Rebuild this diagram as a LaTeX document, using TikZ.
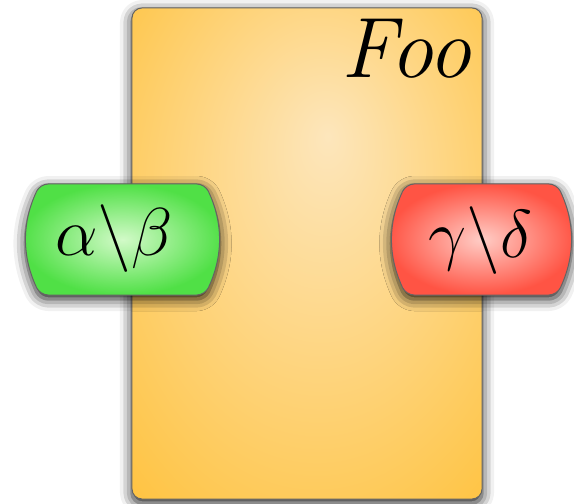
\RequirePackage{fix-cm}
\documentclass[tikz,border=0pt]{standalone}
\usetikzlibrary{shadows.blur}

\definecolor{fooinner}{RGB}{253,230,188}
\definecolor{foouter}{RGB}{255,188,40}
\definecolor{ininner}{RGB}{210,250,200}
\definecolor{inouter}{RGB}{80,224,70}
\definecolor{outinner}{RGB}{255,205,198}
\definecolor{outouter}{RGB}{255,84,68}
\definecolor{rim}{RGB}{100,100,100}

% light spot a little above the middle of the block
\pgfdeclareradialshading{fooglow}{\pgfpoint{3bp}{12bp}}{%
	color(0bp)=(fooinner); color(46bp)=(foouter); color(50bp)=(foouter)}

\tikzset{
	softshadow/.style={blur shadow={shadow xshift=0bp, shadow yshift=-2bp,
		shadow blur radius=6bp, shadow opacity=90}},
	block/.style={draw=rim, line width=0.5bp, rounded corners=5bp,
		shading=fooglow, minimum width=175bp, minimum height=245.5bp, softshadow},
	portbody/.style={draw=rim, line width=0.5bp, rounded corners=4bp, softshadow},
	portname/.style={anchor=base, inner sep=0pt, font=\fontsize{34}{40}\selectfont},
}

\begin{document}
\begin{tikzpicture}[x=0.5bp, y=-0.5bp]
	\useasboundingbox (0,0) rectangle (574,504);

	\node[block] (foo) at (307,253.5) {};
	\node[anchor=base east, inner sep=0pt, font=\fontsize{43}{50}\selectfont] (fooname) at (472,78) {\textit{Foo}};

	% ports, sides bulging out (start mid-top so the rounding closes cleanly)
	\path[portbody, inner color=ininner, outer color=inouter]
		(122,184) -- (205,184) to[bend left=25] (205,295) -- (40,295) to[bend left=25] (40,184) -- cycle;
	\path[portbody, inner color=outinner, outer color=outouter]
		(481,184) -- (557,184) to[bend left=25] (557,295) -- (406,295) to[bend left=25] (406,184) -- cycle;

	\node[portname] (inport) at (114,256) {$\alpha\backslash\beta$};
	\node[portname] (outport) at (480,258) {$\gamma\backslash\delta$};

\end{tikzpicture}
\end{document}
